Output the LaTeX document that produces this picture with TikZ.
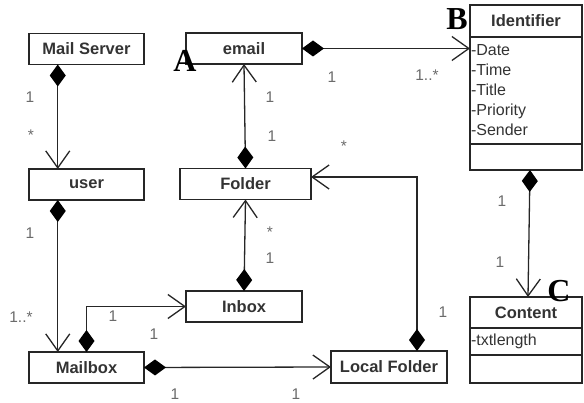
\documentclass[tikz,border=0pt]{standalone}
\usepackage{fontspec}
\setmainfont{Liberation Sans}
\newfontfamily\tagfont{Liberation Serif}
\usepackage{tikz}
\usetikzlibrary{arrows.meta,positioning,calc}
\definecolor{linecol}{gray}{0.15}
\definecolor{namecol}{gray}{0.2}
\definecolor{multcol}{gray}{0.42}
\tikzset{
  cls/.style={ draw=linecol, line width=1.3pt, outer sep=0pt, inner sep=0pt, minimum width=115pt, minimum height=31pt, text=namecol, font=\bfseries\fontsize{16.5}{18}\selectfont }
}
\tikzset{
  attrbox/.style={ draw=linecol, line width=1.3pt, outer sep=0pt, inner xsep=1pt, inner ysep=0pt, minimum width=112pt, text width=110pt, align=left, text=namecol, font=\fontsize{16}{20}\selectfont }
}
\tikzset{
  mult/.style={ anchor=base, inner sep=0pt, text=multcol, font=\fontsize{15.5}{18}\selectfont }
}
\tikzset{
  tag/.style={ anchor=base, inner sep=0pt, font=\tagfont\bfseries\fontsize{32}{32}\selectfont }
}
\tikzset{
  comp/.style={ draw=linecol, line width=1.3pt, {Diamond[length=22pt,width=16pt,black]}-{Straight Barb[length=17pt,width=24pt]} }
}

\begin{document}
\begin{tikzpicture}[x=1pt, y=-1pt]
      \useasboundingbox (0,0) rectangle (584,403);
      % classes
      \node[cls] (server) at (86.5, 49) {Mail Server};
      \node[cls, minimum width=116pt] (email) at (244, 48.5) {email};
      \node[cls] (user) at (86.5, 184.5) {user};
      \node[cls, minimum width=131pt] (folder) at (245.5, 184) {Folder};
      \node[cls, minimum width=116pt] (inbox) at (244, 306.5) {Inbox};
      \node[cls] (mailbox) at (86.5, 367.5) {Mailbox};
      \node[cls, minimum width=116pt, minimum height=32pt] (lfolder) at (389, 367) {Local Folder};
      \node[cls, minimum width=112pt, minimum height=32pt] (ident) at (526, 21) {Identifier};
      \node[attrbox, minimum height=107pt, below=0pt of ident] (identattr) {-Date\\-Time\\-Title\\-Priority\\-Sender};
      \node[attrbox, minimum height=26pt, below=0pt of identattr] (identops) {};
      \node[cls, minimum width=112pt] (content) at (526, 312.5) {Content};
      \node[attrbox, minimum height=27pt, below=0pt of content] (contattr) {-txtlength};
      \node[attrbox, minimum height=28pt, below=0pt of contattr] (contops) {};
      % compositions
      \draw[comp] ($(server.south west)!0.25!(server.south east)$) -- ($(user.north west)!0.25!(user.north east)$);
      \draw[comp] ($(user.south west)!0.25!(user.south east)$) -- ($(mailbox.north west)!0.25!(mailbox.north east)$);
      \draw[comp] (folder.north) -- (email.south);
      \draw[comp] (inbox.north) -- (folder.south);
      \draw[comp] (email.east) -- (email.east -| identattr.west);
      \draw[comp] (mailbox.north) |- (inbox.west);
      \draw[comp] (mailbox.east) -- (lfolder.west);
      \draw[comp] ([xshift=28pt]lfolder.north) |- ([yshift=7pt]folder.east);
      \draw[comp] ([xshift=4pt]identops.south) -- ([xshift=2pt]content.north);
      % multiplicities
      \node[mult] (m1) at (30, 102.5) {1};
      \node[mult] (m2) at (31, 140.5) {*};
      \node[mult] (m3) at (270, 102.5) {1};
      \node[mult] (m4) at (272, 141.5) {1};
      \node[mult] (m5) at (332, 82.5) {1};
      \node[mult] (m6) at (427, 80.5) {1..*};
      \node[mult] (m7) at (30, 238.5) {1};
      \node[mult] (m8) at (21, 322.5) {1..*};
      \node[mult] (m9) at (270, 237.5) {*};
      \node[mult] (m10) at (270, 263.5) {1};
      \node[mult] (m11) at (113, 321.5) {1};
      \node[mult] (m12) at (154, 339.5) {1};
      \node[mult] (m13) at (175, 399.5) {1};
      \node[mult] (m14) at (296, 399.5) {1};
      \node[mult] (m15) at (344, 151.5) {*};
      \node[mult] (m16) at (443, 317.5) {1};
      \node[mult] (m17) at (502, 206.5) {1};
      \node[mult] (m18) at (500, 267.5) {1};
      % tags
      \node[tag] (tagA) at (185, 72) {A};
      \node[tag] (tagB) at (457, 30) {B};
      \node[tag] (tagC) at (559, 302) {C};
    \end{tikzpicture}
\end{document}
